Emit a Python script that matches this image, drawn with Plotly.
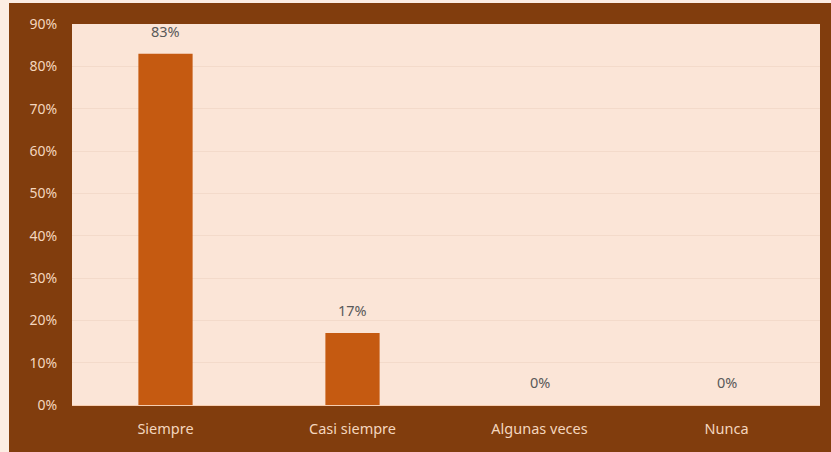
import plotly.graph_objects as go

categories = ["Siempre", "Casi siempre", "Algunas veces", "Nunca"]
values = [0.83, 0.17, 0.0, 0.0]
labels = ["83%", "17%", "0%", "0%"]
y_ticks = [0, 0.1, 0.2, 0.3, 0.4, 0.5, 0.6, 0.7, 0.8, 0.9]
y_tick_text = ["0%", "10%", "20%", "30%", "40%", "50%", "60%", "70%", "80%", "90%"]

BROWN = "#813D0D"
PEACH = "#FBE5D7"
BAR = "#C55A11"
TICK = "#F4D6BE"
FONT = "Noto Sans"

W, H = 831, 452
L, R, T, B = 72, 11, 24, 47

fig = go.Figure()
fig.add_trace(go.Bar(
    x=categories, y=values,
    marker=dict(color=BAR, line=dict(width=0)),
    width=0.29,
    hoverinfo="skip",
))

for c, v, t in zip(categories, values, labels):
    fig.add_annotation(x=c, y=v, text=t, showarrow=False, yanchor="bottom",
                       yshift=11, font=dict(family=FONT, size=14.5, color="#595959"))

# light strips along the left and top edge of the page
fig.add_shape(type="rect", xref="paper", yref="paper", layer="below",
              x0=-L / (W - L - R), x1=(9 - L) / (W - L - R),
              y0=-B / (H - T - B), y1=1 + T / (H - T - B),
              fillcolor="#FCEDE3", line=dict(width=0))
fig.add_shape(type="rect", xref="paper", yref="paper", layer="below",
              x0=-L / (W - L - R), x1=1 + R / (W - L - R),
              y0=1 + (T - 3) / (H - T - B), y1=1 + T / (H - T - B),
              fillcolor="#FCEDE3", line=dict(width=0))

fig.update_layout(
    width=W, height=H,
    margin=dict(l=L, r=R, t=T, b=B),
    paper_bgcolor=BROWN,
    plot_bgcolor=PEACH,
    showlegend=False,
    bargap=0.71,
    font=dict(family=FONT, size=14, color=TICK),
)
fig.update_xaxes(
    showgrid=False, showline=True, linecolor="#F6CDB0", linewidth=1,
    ticks="outside", ticklen=11, tickcolor="rgba(0,0,0,0)",
    tickfont=dict(family=FONT, size=14.5, color=TICK),
)
fig.update_yaxes(
    range=[0, 0.9], tickvals=y_ticks, ticktext=y_tick_text,
    showgrid=True, gridcolor="#F3DACA", gridwidth=1, zeroline=False,
    ticks="outside", ticklen=11, tickcolor="rgba(0,0,0,0)",
    tickfont=dict(family=FONT, size=14, color=TICK),
)

fig.write_html("out.html")
